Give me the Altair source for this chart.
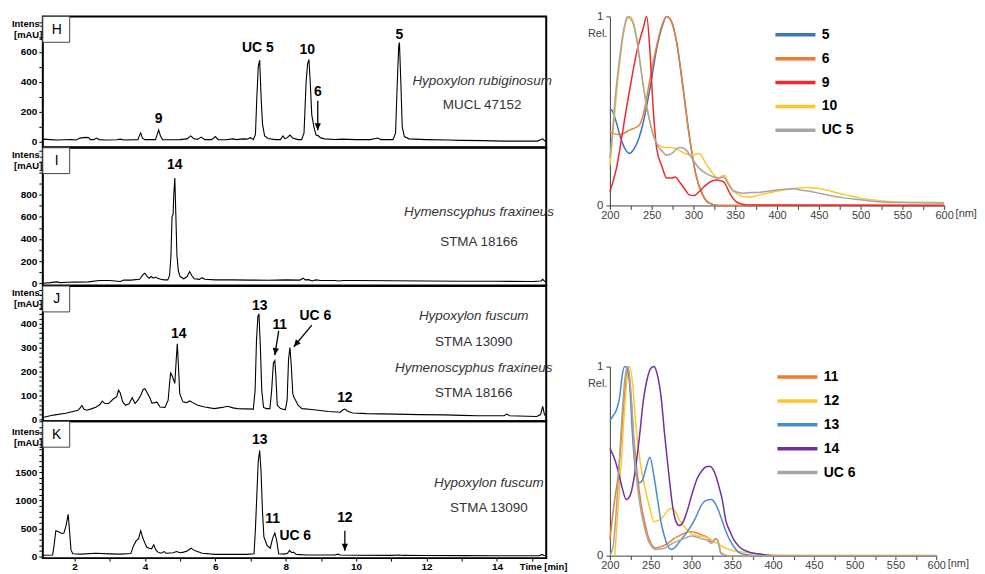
import altair as alt
import pandas as pd

FONT = "Liberation Sans"

# ---------------- chromatograms (time [min], intensity [mAU]) ----------------
TIME_DOMAIN = [1.1, 15.4]
TIME_TICKS = list(range(2, 16))

H_T = [1.10, 1.15, 1.30, 1.50, 1.70, 1.90, 2.05, 2.15, 2.30, 2.40, 2.45, 2.55, 2.62, 2.70, 2.85, 3.20, 3.30, 3.40,
       3.80, 3.85, 3.88, 3.93, 4.00, 4.30, 4.35, 4.39, 4.44, 4.50, 4.80, 5.00, 5.20, 5.30, 5.40, 5.50, 5.60, 5.70,
       5.90, 6.00, 6.08, 6.30, 6.50, 6.60, 6.80, 6.90, 7.00, 7.08, 7.14, 7.18, 7.22, 7.26, 7.30, 7.34, 7.40, 7.50,
       7.70, 7.85, 7.92, 7.98, 8.05, 8.12, 8.20, 8.35, 8.45, 8.52, 8.58, 8.62, 8.66, 8.70, 8.74, 8.80, 8.86, 8.93,
       8.98, 9.10, 9.40, 9.60, 10.00, 10.40, 10.55, 10.62, 10.70, 11.05, 11.12, 11.17, 11.21, 11.23, 11.27, 11.31,
       11.37, 11.50, 12.00, 12.60, 13.00, 13.60, 14.20, 14.80, 15.15, 15.25, 15.30, 15.35, 15.40]
H_V = [10, 18, 15, 12, 14, 15, 12, 25, 30, 28, 15, 15, 25, 15, 12, 14, 18, 12,
       15, 45, 60, 25, 15, 15, 50, 80, 40, 15, 14, 15, 20, 40, 20, 18, 32, 15,
       15, 35, 15, 14, 20, 15, 20, 18, 28, 15, 50, 300, 500, 545, 300, 120, 40, 22,
       15, 15, 40, 20, 30, 45, 25, 15, 15, 60, 400, 520, 550, 380, 180, 100, 45, 40,
       28, 20, 16, 18, 15, 15, 22, 25, 15, 15, 60, 400, 640, 663, 400, 100,
       35, 20, 15, 12, 10, 8, 5, 5, 5, 15, 20, 8, 6]

I_T = [1.10, 1.30, 1.50, 1.60, 1.80, 2.00, 2.40, 2.70, 3.00, 3.30, 3.40, 3.60, 3.85, 3.95, 4.00, 4.07, 4.12, 4.18,
       4.24, 4.30, 4.36, 4.45, 4.55, 4.65, 4.70, 4.74, 4.77, 4.80, 4.82, 4.85, 4.88, 4.91, 4.95, 5.00, 5.10, 5.20,
       5.27, 5.33, 5.40, 5.55, 5.62, 5.70, 6.00, 6.50, 7.00, 7.50, 8.00, 8.40, 8.50, 8.55, 8.65, 8.75, 8.85, 9.00,
       9.40, 9.50, 9.65, 10.00, 11.00, 12.00, 13.00, 14.00, 15.00, 15.25, 15.30, 15.36, 15.40]
I_V = [0, 5, 12, 5, 8, 10, 12, 25, 25, 15, 28, 28, 35, 80, 90, 60, 45, 60,
       45, 55, 45, 35, 30, 30, 70, 250, 600, 620, 800, 950, 600, 250, 110, 60, 40, 60,
       105, 70, 40, 35, 50, 35, 30, 30, 28, 27, 30, 28, 45, 30, 32, 20, 30, 25,
       25, 20, 25, 25, 22, 20, 18, 17, 15, 20, 35, 15, 12]

J_T = [1.10, 1.40, 1.75, 2.10, 2.16, 2.21, 2.27, 2.35, 2.50, 2.62, 2.72, 2.79, 2.86, 2.97, 3.10, 3.20, 3.25, 3.30,
       3.37, 3.45, 3.55, 3.64, 3.72, 3.80, 3.88, 3.95, 4.00, 4.08, 4.14, 4.20, 4.28, 4.34, 4.43, 4.57, 4.66, 4.70,
       4.73, 4.78, 4.85, 4.89, 4.92, 4.95, 4.99, 5.08, 5.18, 5.27, 5.36, 5.50, 5.70, 5.97, 6.20, 6.35, 6.50, 6.63,
       6.85, 7.08, 7.13, 7.17, 7.21, 7.24, 7.28, 7.32, 7.37, 7.45, 7.55, 7.60, 7.65, 7.69, 7.72, 7.76, 7.85, 7.99,
       8.04, 8.08, 8.12, 8.16, 8.20, 8.24, 8.28, 8.35, 8.46, 8.74, 9.21, 9.55, 9.63, 9.68, 9.75, 9.90, 10.30, 11.10,
       11.80, 12.50, 13.00, 13.44, 14.20, 14.28, 14.36, 15.13, 15.24, 15.30, 15.35, 15.40]
J_V = [8, 18, 26, 38, 48, 58, 42, 38, 45, 52, 62, 76, 66, 66, 85, 95, 122, 110,
       73, 59, 65, 90, 66, 80, 100, 125, 128, 107, 90, 68, 70, 73, 52, 50, 80, 150,
       193, 180, 150, 250, 315, 230, 107, 73, 70, 77, 70, 59, 52, 45, 50, 55, 48, 45,
       44, 43, 120, 330, 430, 440, 300, 120, 50, 45, 45, 120, 235, 245, 180, 60, 45, 40,
       80, 250, 300, 220, 107, 90, 80, 59, 45, 41, 33, 30, 40, 43, 35, 27, 24, 22,
       20, 19, 17, 15, 15, 22, 15, 12, 20, 54, 20, 12]

K_T = [1.10, 1.38, 1.42, 1.47, 1.55, 1.63, 1.70, 1.76, 1.82, 1.86, 1.90, 1.95, 2.20, 2.60, 3.00, 3.30, 3.60, 3.68,
       3.75, 3.82, 3.88, 3.94, 4.00, 4.05, 4.12, 4.19, 4.25, 4.31, 4.37, 4.45, 4.55, 4.60, 4.80, 4.90, 5.00, 5.10,
       5.20, 5.31, 5.38, 5.45, 5.63, 6.00, 6.50, 6.90, 7.10, 7.14, 7.18, 7.22, 7.26, 7.30, 7.34, 7.38, 7.47, 7.56,
       7.63, 7.69, 7.74, 7.80, 7.95, 8.05, 8.11, 8.17, 8.22, 8.30, 8.60, 9.00, 9.40, 9.48, 9.55, 10.00, 11.00, 11.25,
       11.32, 12.00, 13.00, 14.00, 15.20, 15.28, 15.34, 15.40]
K_V = [25, 30, 200, 460, 440, 410, 420, 550, 750, 450, 120, 50, 45, 60, 50, 45, 55, 200,
       280, 320, 460, 330, 240, 170, 150, 140, 210, 120, 80, 60, 90, 60, 70, 90, 70, 80,
       100, 150, 120, 100, 60, 40, 40, 40, 50, 500, 1100, 1700, 1880, 1500, 800, 350, 200, 150,
       330, 420, 300, 50, 45, 60, 110, 70, 80, 40, 30, 30, 30, 45, 30, 25, 22, 30,
       22, 20, 18, 15, 15, 40, 20, 15]

# peak labels
H_PK_TEXT = ["9", "UC 5", "10", "6", "5"]
H_PK_T = [4.39, 7.21, 8.61, 8.91, 11.23]
H_PK_V = [154, 626, 615, 334, 714]
I_PK_TEXT = ["14"]
I_PK_T = [4.85]
I_PK_V = [1064]
J_PK_TEXT = ["14", "13", "11", "UC 6", "12"]
J_PK_T = [4.96, 7.26, 7.83, 8.84, 9.68]
J_PK_V = [358, 473, 393, 431, 88]
K_PK_TEXT = ["13", "11", "UC 6", "12"]
K_PK_T = [7.26, 7.63, 8.27, 9.68]
K_PK_V = [2065, 665, 358, 694]

# arrows (start -> tip)
H_AR = {"t": [8.91], "v": [275], "t2": [8.91], "v2": [77], "a": [0]}
I_AR = {"t": [], "v": [], "t2": [], "v2": [], "a": []}
J_AR = {"t": [7.80, 8.74], "v": [369, 393], "t2": [7.69, 8.23], "v2": [268, 303], "a": [9, 40]}
K_AR = {"t": [9.68], "v": [459], "t2": [9.68], "v2": [106], "a": [0]}

# organism names (italic) and strains
H_SPECIES, H_SP_T, H_SP_V = ["Hypoxylon rubiginosum"], [13.58], [407]
H_STRAIN, H_ST_T, H_ST_V = ["MUCL 47152"], [13.58], [246]
I_SPECIES, I_SP_T, I_SP_V = ["Hymenscyphus fraxineus"], [13.49], [644]
I_STRAIN, I_ST_T, I_ST_V = ["STMA 18166"], [13.49], [375]
J_SPECIES, J_SP_T, J_SP_V = ["Hypoxylon fuscum", "Hymenoscyphus fraxineus"], [13.34, 13.34], [431, 213]
J_STRAIN, J_ST_T, J_ST_V = ["STMA 13090", "STMA 18166"], [13.34, 13.34], [324, 109]
K_SPECIES, K_SP_T, K_SP_V = ["Hypoxylon fuscum"], [13.77], [1311]
K_STRAIN, K_ST_T, K_ST_V = ["STMA 13090"], [13.77], [870]

# ---------------- UV spectra (nm, relative absorbance) ----------------
S5_NM = [200, 203, 207, 212, 218, 223, 229, 235, 240, 248, 256, 262, 268, 274, 280, 287, 295, 303, 311, 319, 330, 360, 450, 600]
S5_R = [0.51, 0.50, 0.45, 0.37, 0.30, 0.275, 0.30, 0.36, 0.44, 0.62, 0.83, 0.94, 1.0, 0.97, 0.86, 0.64, 0.37, 0.16, 0.056, 0.012, 0.0, 0.0, 0.0, 0.0]
S6_NM = [200, 205, 212, 218, 224, 230, 236, 241, 248, 256, 262, 268, 274, 280, 287, 295, 303, 311, 319, 330, 360, 600]
S6_R = [0.39, 0.38, 0.375, 0.385, 0.40, 0.41, 0.43, 0.50, 0.67, 0.845, 0.95, 1.0, 0.97, 0.86, 0.64, 0.37, 0.16, 0.056, 0.012, 0.0, 0.0, 0.0]
S9_NM = [200, 204, 208, 212, 216, 220, 224, 228, 232, 236, 240, 244, 248, 252, 256, 262, 268, 274, 278, 284, 289, 295, 301,
         307, 313, 320, 327, 333, 337, 344, 351, 358, 365, 400, 600]
S9_R = [0.074, 0.13, 0.20, 0.30, 0.41, 0.52, 0.62, 0.72, 0.81, 0.88, 0.94, 1.0, 0.81, 0.50, 0.30, 0.21, 0.145, 0.145, 0.15,
        0.12, 0.09, 0.056, 0.053, 0.074, 0.10, 0.125, 0.135, 0.13, 0.12, 0.06, 0.02, 0.008, 0.003, 0.002, 0.0]
S10_NM = [200, 203, 206, 209, 212, 215, 218, 221, 224, 228, 232, 236, 240, 246, 252, 258, 266, 274, 282, 290, 299, 307, 315,
          323, 329, 334, 337, 342, 347, 353, 359, 368, 379, 390, 402, 418, 434, 450, 466, 482, 498, 518, 537, 570, 600]
S10_R = [0.21, 0.35, 0.495, 0.64, 0.76, 0.87, 0.95, 0.99, 1.0, 0.97, 0.89, 0.76, 0.635, 0.48, 0.37, 0.32, 0.307, 0.307, 0.293,
         0.275, 0.267, 0.275, 0.22, 0.17, 0.145, 0.155, 0.16, 0.12, 0.08, 0.06, 0.047, 0.045, 0.056, 0.066, 0.077, 0.088,
         0.095, 0.09, 0.074, 0.056, 0.04, 0.028, 0.02, 0.017, 0.016]
SUC5_NM = [200, 203, 206, 210, 214, 218, 221, 224, 228, 232, 236, 240, 246, 252, 258, 263, 268, 274, 280, 285, 292, 298, 307,
           315, 323, 331, 336, 342, 347, 353, 359, 370, 380, 390, 400, 410, 420, 430, 440, 450, 460, 480, 500, 520, 550, 600]
SUC5_R = [0.25, 0.38, 0.55, 0.72, 0.86, 0.96, 1.0, 0.99, 0.96, 0.88, 0.76, 0.63, 0.48, 0.37, 0.31, 0.285, 0.265, 0.275, 0.30,
          0.307, 0.29, 0.25, 0.196, 0.17, 0.153, 0.144, 0.15, 0.11, 0.08, 0.07, 0.065, 0.068, 0.07, 0.076, 0.082, 0.086,
          0.088, 0.08, 0.074, 0.065, 0.055, 0.04, 0.03, 0.02, 0.015, 0.012]

S11_NM = [200, 203, 206, 210, 214, 218, 222, 226, 230, 234, 238, 243, 247, 251, 255, 261, 267, 273, 279, 285, 291, 296, 300,
          304, 308, 312, 316, 320, 324, 327, 330, 333, 336, 340, 345, 360, 600]
S11_R = [0.083, 0.2, 0.3, 0.42, 0.62, 0.85, 1.0, 0.83, 0.59, 0.42, 0.28, 0.17, 0.10, 0.06, 0.042, 0.045, 0.056, 0.072, 0.091,
         0.105, 0.118, 0.125, 0.127, 0.124, 0.118, 0.11, 0.104, 0.095, 0.074, 0.08, 0.091, 0.07, 0.016, 0.005, 0.0, 0.0, 0.0]
S12_NM = [206, 210, 214, 218, 222, 224, 228, 232, 237, 243, 249, 254, 259, 265, 270, 275, 280, 285, 292, 299, 307, 316, 322,
          328, 335, 342, 348, 358, 368, 380, 390, 400, 450, 600]
S12_R = [0.0, 0.25, 0.5, 0.78, 0.97, 1.0, 0.90, 0.68, 0.50, 0.36, 0.25, 0.18, 0.185, 0.205, 0.235, 0.25, 0.235, 0.19, 0.15,
         0.118, 0.105, 0.10, 0.09, 0.074, 0.055, 0.04, 0.03, 0.02, 0.016, 0.01, 0.005, 0.003, 0.002, 0.002]
S13_NM = [200, 204, 208, 212, 215, 218, 221, 224, 228, 232, 236, 240, 244, 249, 254, 259, 263, 267, 271, 275, 279, 283, 287,
          293, 299, 305, 311, 317, 324, 330, 336, 342, 348, 354, 360, 370, 381, 400, 600]
S13_R = [0.715, 0.74, 0.77, 0.84, 0.95, 1.0, 0.99, 0.92, 0.62, 0.43, 0.385, 0.40, 0.46, 0.52, 0.42, 0.28, 0.17, 0.10, 0.05,
         0.033, 0.04, 0.06, 0.083, 0.115, 0.153, 0.20, 0.258, 0.29, 0.297, 0.27, 0.205, 0.13, 0.074, 0.035, 0.012, 0.004,
         0.0, 0.0, 0.0]
S14_NM = [200, 205, 210, 215, 220, 225, 230, 236, 241, 246, 250, 254, 258, 263, 267, 272, 277, 281, 285, 290, 295, 301, 307,
          313, 318, 322, 326, 330, 334, 338, 342, 347, 352, 358, 364, 372, 381, 392, 400, 600]
S14_R = [0.566, 0.52, 0.45, 0.36, 0.297, 0.32, 0.42, 0.62, 0.82, 0.94, 0.99, 1.0, 0.96, 0.83, 0.645, 0.44, 0.258, 0.18, 0.16,
         0.18, 0.24, 0.33, 0.408, 0.45, 0.47, 0.473, 0.46, 0.42, 0.36, 0.29, 0.188, 0.13, 0.083, 0.05, 0.03, 0.017, 0.01,
         0.003, 0.0, 0.0]
SUC6_NM = [200, 204, 208, 211, 214, 218, 222, 226, 230, 234, 238, 243, 247, 251, 255, 261, 267, 273, 279, 285, 291, 296, 300,
           304, 308, 312, 316, 320, 324, 327, 330, 333, 336, 340, 345, 600]
SUC6_R = [0.0, 0.05, 0.25, 0.45, 0.68, 0.92, 1.0, 0.85, 0.55, 0.36, 0.24, 0.14, 0.08, 0.05, 0.033, 0.035, 0.04, 0.055, 0.07,
          0.08, 0.09, 0.10, 0.104, 0.10, 0.097, 0.09, 0.086, 0.08, 0.065, 0.075, 0.09, 0.07, 0.012, 0.004, 0.0, 0.0]

TOP_KEYS = ["5", "6", "9", "10", "UC 5"]
TOP_COLORS = ["#3A74C0", "#ED7D31", "#F0282A", "#FFC62A", "#A5A5A5"]
BOT_KEYS = ["11", "12", "13", "14", "UC 6"]
BOT_COLORS = ["#ED7D31", "#FFC62A", "#4A8BCF", "#7030A0", "#A5A5A5"]

ARROW_HEAD = "M0,0L-0.9,-2L0.9,-2Z"


def chromatogram(times, vals, ydom, ytick_step, ylab_max, ylab_step, letter, height,
                 pk_text, pk_t, pk_v, arrows, sp, sp_t, sp_v, st, st_t, st_v, last, title_y=2):
    if last:
        x_axis = alt.Axis(values=TIME_TICKS, labelExpr="datum.value % 2 == 0 ? datum.label : ''",
                          title="Time [min]", titleAngle=0, titleAlign="left", titleBaseline="middle",
                          titleX=479, titleY=8, titleFontSize=9.5, titleFontWeight="bold",
                          labelFontSize=10, labelFontWeight="bold", labelColor="black", labelPadding=0,
                          tickSize=3, tickColor="black", domain=False, grid=False, labelFlush=False)
    else:
        x_axis = None
    yvals = list(range(0, int(ydom[1]) + 1, ytick_step))
    y_axis = alt.Axis(values=yvals, format="d",
                      labelExpr=f"(datum.value % {ylab_step} == 0 && datum.value <= {ylab_max}) ? datum.label : ''",
                      title=["Intens.", "[mAU]"], titleAngle=0, titleAlign="right", titleBaseline="top",
                      titleX=-1, titleY=title_y, titleFontSize=9.5, titleFontWeight="bold", titleLineHeight=11,
                      labelFontSize=10, labelFontWeight="bold", labelColor="black", labelPadding=2,
                      tickSize=4, tickColor="black", domain=False, grid=False)
    X = alt.X("t:Q", scale=alt.Scale(domain=TIME_DOMAIN, nice=False, zero=False), axis=x_axis)
    Y = alt.Y("v:Q", scale=alt.Scale(domain=ydom, nice=False, zero=False), axis=y_axis)

    trace = alt.Chart(pd.DataFrame({"t": times, "v": vals})).mark_line(
        color="black", strokeWidth=1.1, clip=True).encode(x=X, y=Y)
    peaks = alt.Chart(pd.DataFrame({"t": pk_t, "v": pk_v, "label": pk_text})).mark_text(
        fontSize=14, fontWeight="bold", color="black", align="center", baseline="middle").encode(
        x=X, y=Y, text="label:N")
    species = alt.Chart(pd.DataFrame({"t": sp_t, "v": sp_v, "label": sp})).mark_text(
        fontSize=13.5, fontStyle="italic", color="#333333", align="center", baseline="middle").encode(
        x=X, y=Y, text="label:N")
    strain = alt.Chart(pd.DataFrame({"t": st_t, "v": st_v, "label": st})).mark_text(
        fontSize=13.5, color="#333333", align="center", baseline="middle").encode(
        x=X, y=Y, text="label:N")
    box = alt.Chart(pd.DataFrame({"label": [letter]})).mark_rect(
        fill="white", stroke="#444444", strokeWidth=1).encode(
        x=alt.value(0), x2=alt.value(27), y=alt.value(0), y2=alt.value(26))
    letter_t = alt.Chart(pd.DataFrame({"label": [letter]})).mark_text(
        fontSize=14, color="black", align="center", baseline="middle").encode(
        x=alt.value(14), y=alt.value(13.5), text="label:N")
    layers = [trace, peaks, species, strain]
    if arrows["t"]:
        adf = pd.DataFrame(arrows)
        shaft = alt.Chart(adf).mark_rule(color="black", strokeWidth=1.3).encode(
            x=X, y=Y, x2="t2:Q", y2="v2:Q")
        head = alt.Chart(adf).mark_point(shape=ARROW_HEAD, filled=True, size=49, color="black",
                                         opacity=1).encode(
            x=alt.X("t2:Q", scale=alt.Scale(domain=TIME_DOMAIN, nice=False, zero=False), axis=x_axis),
            y=alt.Y("v2:Q", scale=alt.Scale(domain=ydom, nice=False, zero=False), axis=y_axis),
            angle=alt.Angle("a:Q", scale=None))
        layers += [shaft, head]
    layers += [box, letter_t]
    return alt.layer(*layers).properties(
        width=506, height=height, view=alt.ViewBackground(stroke="black", strokeWidth=2))


def spectrum(series, keys, colors, width, height, leg_x, leg_y):
    rows = []
    for key, (nm, rel) in zip(keys, series):
        for a, b in zip(nm, rel):
            rows.append({"nm": a, "rel": b, "cmp": key})
    df = pd.DataFrame(rows)
    X = alt.X("nm:Q", scale=alt.Scale(domain=[200, 600], nice=False, zero=False),
              axis=alt.Axis(values=list(range(200, 601, 25)),
                            labelExpr="datum.value % 50 == 0 ? datum.label : ''",
                            title="[nm]", titleAngle=0, titleAlign="left", titleBaseline="middle",
                            titleX=width + 11, titleY=8, titleFontSize=11, titleFontWeight="normal",
                            titleColor="#404040", labelFontSize=11, labelColor="#404040",
                            labelFlush=False, labelPadding=0, tickSize=4, tickColor="#404040",
                            domainColor="#404040", grid=False))
    Y = alt.Y("rel:Q", scale=alt.Scale(domain=[0, 1], nice=False),
              axis=alt.Axis(values=[0, 0.2, 0.4, 0.6, 0.8, 1.0], format="d",
                            labelExpr="(datum.value == 0 || datum.value == 1) ? datum.label : ''",
                            title="Rel.", titleAngle=0, titleAlign="right", titleBaseline="middle",
                            titleX=-3, titleY=17, titleFontSize=11, titleFontWeight="normal",
                            titleColor="#404040", labelFontSize=11.5, labelColor="#404040",
                            labelPadding=3, tickSize=4, tickColor="#404040", domainColor="#404040",
                            grid=False))
    lines = alt.Chart(df).mark_line(strokeWidth=1.5, interpolate="monotone").encode(
        x=X, y=Y,
        color=alt.Color("cmp:N", scale=alt.Scale(domain=keys, range=colors),
                        legend=alt.Legend(orient="none", legendX=leg_x, legendY=leg_y, title=None,
                                          symbolType="M-3,0H3", symbolSize=180, symbolStrokeWidth=3.5,
                                          labelFontSize=14, labelFontWeight="bold",
                                          labelColor="black", labelOffset=18, rowPadding=8)))
    return lines.properties(width=width, height=height, view=alt.ViewBackground(stroke="transparent"))


H = chromatogram(H_T, H_V, [-36, 837], 100, 600, 200, "H", 131.5, H_PK_TEXT, H_PK_T, H_PK_V, H_AR,
                 H_SPECIES, H_SP_T, H_SP_V, H_STRAIN, H_ST_T, H_ST_V, False)
I = chromatogram(I_T, I_V, [-21, 1224], 100, 800, 200, "I", 138.5, I_PK_TEXT, I_PK_T, I_PK_V, I_AR,
                 I_SPECIES, I_SP_T, I_SP_V, I_STRAIN, I_ST_T, I_ST_V, False)
J = chromatogram(J_T, J_V, [-8, 556], 20, 400, 100, "J", 136, J_PK_TEXT, J_PK_T, J_PK_V, J_AR,
                 J_SPECIES, J_SP_T, J_SP_V, J_STRAIN, J_ST_T, J_ST_V, False)
K = chromatogram(K_T, K_V, [-26, 2400], 100, 1500, 500, "K", 137.5, K_PK_TEXT, K_PK_T, K_PK_V, K_AR,
                 K_SPECIES, K_SP_T, K_SP_V, K_STRAIN, K_ST_T, K_ST_V, True, title_y=5)

left = alt.vconcat(H, I, J, K, spacing=0, bounds="flush")

top_spec = spectrum([(S5_NM, S5_R), (S6_NM, S6_R), (S9_NM, S9_R), (S10_NM, S10_R), (SUC5_NM, SUC5_R)],
                    TOP_KEYS, TOP_COLORS, 336, 190, 178, 10)
bot_spec = spectrum([(S11_NM, S11_R), (S12_NM, S12_R), (S13_NM, S13_R), (S14_NM, S14_R), (SUC6_NM, SUC6_R)],
                    BOT_KEYS, BOT_COLORS, 328, 190, 180, 2)
right = alt.vconcat(top_spec, bot_spec, spacing=162, bounds="flush").resolve_scale(
    color="independent").resolve_legend(color="independent")

chart = alt.hconcat(left, right, spacing=18).resolve_scale(color="independent").properties(
    padding={"left": 2, "top": 0, "right": 0, "bottom": 0}
).configure(font=FONT).configure_view(stroke="transparent")

chart.save("out.html", embed_options={"renderer": "svg", "actions": False})
